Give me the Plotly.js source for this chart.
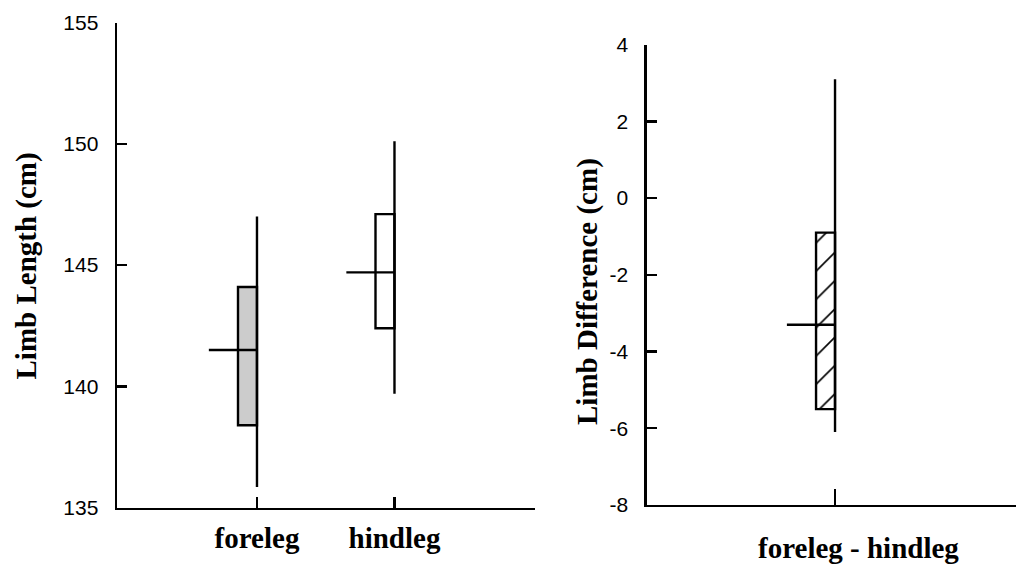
<!DOCTYPE html>
<html>
<head>
<meta charset="utf-8">
<script src="https://cdn.plot.ly/plotly-3.0.1.min.js"></script>
<style>html,body{margin:0;padding:0;background:#fff;}#chart{width:1016px;height:569px;}</style>
</head>
<body>
<div id="chart"></div>
<script>
// ---- data ----
const categories = ['foreleg', 'hindleg'];
const lengthMin = [135.85, 139.7];
const lengthQ1 = [138.4, 142.4];
const lengthMedian = [141.5, 144.7];
const lengthQ3 = [144.1, 147.1];
const lengthMax = [147.0, 150.1];
const lengthFill = ['#cccccc', '#ffffff'];

const diffCategories = ['foreleg - hindleg'];
const diffMin = [-6.1];
const diffQ1 = [-5.5];
const diffMedian = [-3.3];
const diffQ3 = [-0.9];
const diffMax = [3.1];

const lengthTicks = [135, 140, 145, 150, 155];
const diffTicks = [-8, -6, -4, -2, 0, 2, 4];

// ---- drawing ----
const BOX_W = 0.138;
const MED_LEN = 0.35;
const LW = 2.4;

function boxTraces(xa, ya, n, q1, med, q3, lo, hi, markerExtra) {
  const xs = [];
  for (let i = 0; i < n; i++) xs.push(i + 1);
  const traces = [];
  traces.push(Object.assign({
    type: 'bar', xaxis: xa, yaxis: ya,
    x: xs, base: q1, y: q3.map((v, i) => v - q1[i]),
    width: BOX_W, offset: -BOX_W,
    hoverinfo: 'skip', showlegend: false
  }, markerExtra));
  const wx = [], wy = [], mx = [], my = [];
  xs.forEach((c, i) => {
    wx.push(c, c, null); wy.push(lo[i], hi[i], null);
    mx.push(c - MED_LEN, c, null); my.push(med[i], med[i], null);
  });
  traces.push({type: 'scatter', mode: 'lines', xaxis: xa, yaxis: ya, x: wx, y: wy,
    line: {color: '#000', width: LW}, hoverinfo: 'skip', showlegend: false, cliponaxis: false});
  traces.push({type: 'scatter', mode: 'lines', xaxis: xa, yaxis: ya, x: mx, y: my,
    line: {color: '#000', width: LW}, hoverinfo: 'skip', showlegend: false, cliponaxis: false});
  return traces;
}

const data = [].concat(
  boxTraces('x', 'y', categories.length, lengthQ1, lengthMedian, lengthQ3, lengthMin, lengthMax,
    {marker: {color: lengthFill, line: {color: '#000', width: LW}}}),
  boxTraces('x2', 'y2', diffCategories.length, diffQ1, diffMedian, diffQ3, diffMin, diffMax,
    {marker: {color: '#ffffff', line: {color: '#000', width: LW},
      pattern: {shape: '/', fgcolor: '#000', bgcolor: '#ffffff', size: 20, solidity: 0.08, fillmode: 'replace'}}})
);

const W = 1016, H = 569;
const tickFont = {family: 'Liberation Sans, Arial, sans-serif', size: 21, color: '#000'};
const catFont = {family: 'Liberation Serif, Times New Roman, serif', size: 29, color: '#000', weight: 'bold'};

const axBase = {
  showgrid: false, zeroline: false, showline: true, linecolor: '#000', linewidth: LW,
  ticks: 'inside', tickcolor: '#000', tickwidth: LW, fixedrange: true
};

const layout = {
  width: W, height: H,
  margin: {l: 0, r: 0, t: 0, b: 0},
  paper_bgcolor: '#fff', plot_bgcolor: '#fff',
  showlegend: false, barmode: 'overlay',
  xaxis: Object.assign({}, axBase, {
    domain: [117 / W, 535 / W], range: [-0.018, 3.022],
    tickvals: categories.map((c, i) => i + 1), ticktext: categories,
    ticklen: 11, tickfont: catFont, ticklabelstandoff: 3, anchor: 'y'
  }),
  yaxis: Object.assign({}, axBase, {
    domain: [1 - 507.7 / H, 1 - 22.5 / H], range: [135, 155],
    tickvals: lengthTicks, ticktext: lengthTicks.map(v => String(v)),
    ticklen: 10, tickfont: tickFont, ticklabelstandoff: 12, anchor: 'x'
  }),
  xaxis2: Object.assign({}, axBase, {
    domain: [646.7 / W, 1], range: [-0.3695, 2.316],
    tickvals: diffCategories.map((c, i) => i + 1), ticktext: diffCategories.map(() => ''),
    ticklen: 16, anchor: 'y2'
  }),
  yaxis2: Object.assign({}, axBase, {
    domain: [1 - 505 / H, 1 - 44.6 / H], range: [-8, 4],
    tickvals: diffTicks, ticktext: diffTicks.map(v => String(v)),
    ticklen: 10, tickfont: tickFont, ticklabelstandoff: 12, anchor: 'x2'
  }),
  annotations: [
    {text: 'Limb Length (cm)', xref: 'paper', yref: 'paper', x: 26 / W, y: 1 - 266.5 / H,
      xanchor: 'center', yanchor: 'middle', textangle: -90, showarrow: false, font: catFont},
    {text: 'Limb Difference (cm)', xref: 'paper', yref: 'paper', x: 587 / W, y: 1 - 292 / H,
      xanchor: 'center', yanchor: 'middle', textangle: -90, showarrow: false, font: catFont},
    {text: diffCategories[0], xref: 'paper', yref: 'paper', x: 858 / W, y: 1 - 548 / H,
      xanchor: 'center', yanchor: 'middle', showarrow: false, font: catFont}
  ]
};

Plotly.newPlot('chart', data, layout, {staticPlot: true, displayModeBar: false});
</script>
</body>
</html>
